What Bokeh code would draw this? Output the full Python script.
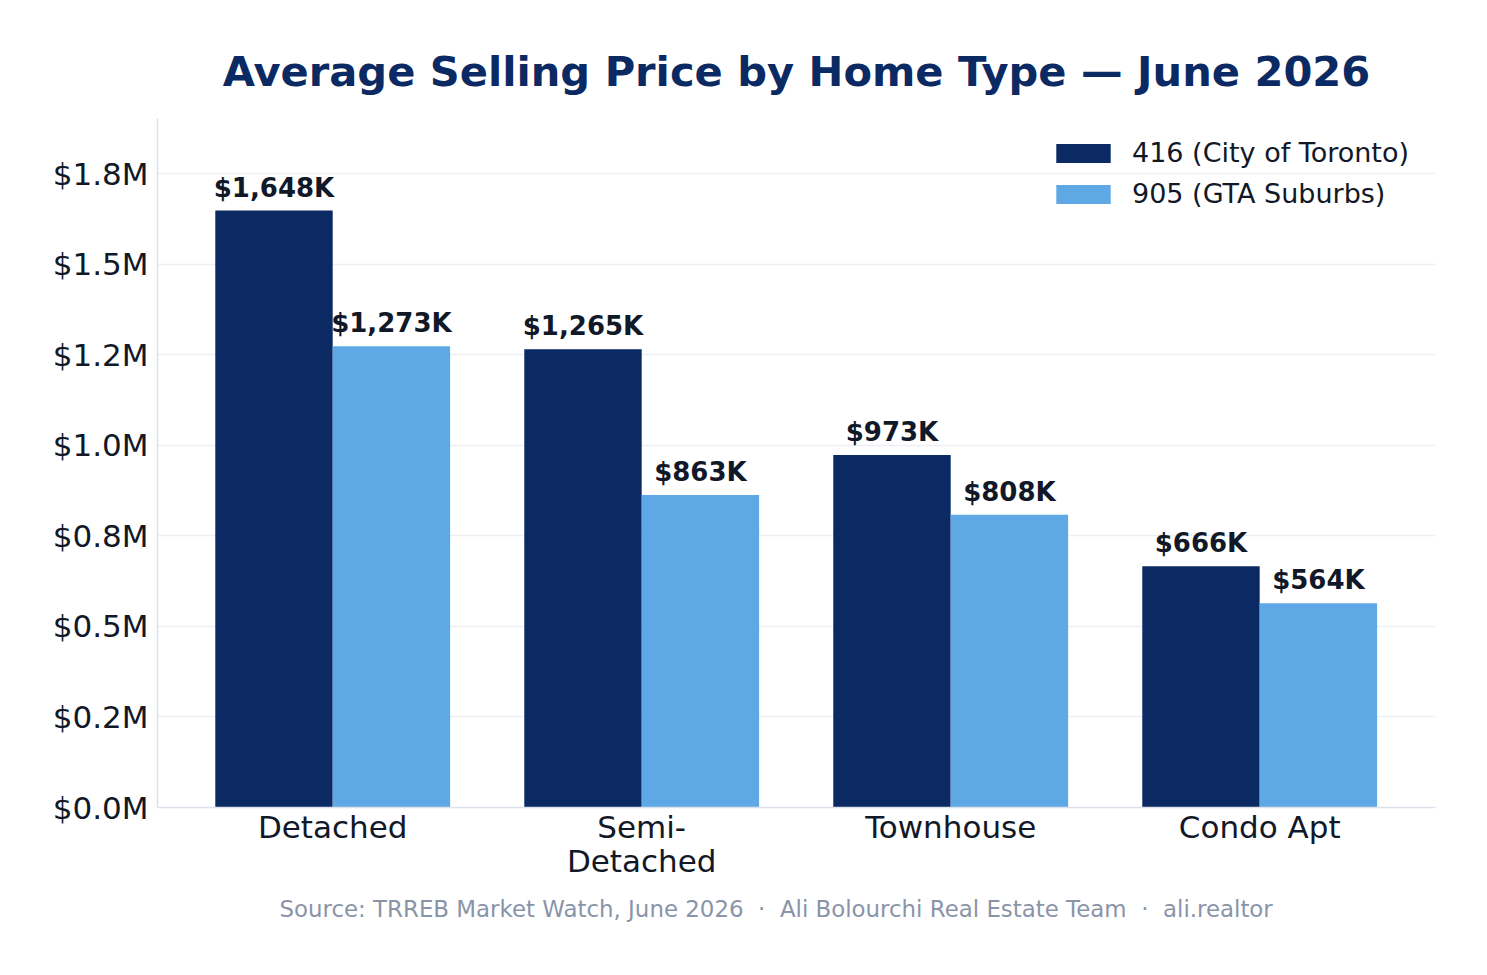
from bokeh.plotting import figure
from bokeh.models import Range1d, FixedTicker, ColumnDataSource, Title
from bokeh.core.properties import value
from bokeh.embed import file_html
from bokeh.resources import INLINE

categories = ["Detached", "Semi-Detached", "Townhouse", "Condo Apt"]
x_tick_labels = ["Detached", "Semi-\nDetached", "Townhouse", "Condo Apt"]
toronto_416 = [1648, 1265, 973, 666]   # $K
suburbs_905 = [1273, 863, 808, 564]    # $K
y_ticks = [0, 250000, 500000, 750000, 1000000, 1250000, 1500000, 1750000]
y_tick_labels = ["$0.0M", "$0.2M", "$0.5M", "$0.8M", "$1.0M", "$1.2M", "$1.5M", "$1.8M"]
series_names = ["416 (City of Toronto)", "905 (GTA Suburbs)"]
title_text = "Average Selling Price by Home Type \u2014 June 2026"
NB = "\u00a0"
source_text = ("Source: TRREB Market Watch, June 2026" + NB * 2 + "\u00b7" + NB * 2 +
               "Ali Bolourchi Real Estate Team" + NB * 2 + "\u00b7" + NB * 2 + "ali.realtor")

DARK = "#0B2A63"
LIGHT = "#5FA8E6"
TEXT = "#111827"
FONT = "DejaVu Sans"
W = 0.38

p = figure(width=1487, height=975, output_backend="svg", toolbar_location=None,
           x_range=Range1d(-0.567, 3.569), y_range=Range1d(0, 1902000),
           min_border_left=157, min_border_right=52, min_border_top=118, min_border_bottom=168)
p.outline_line_color = None
p.background_fill_color = "white"
p.border_fill_color = "white"

p.title.text = title_text
p.title.align = "center"
p.title.text_font = FONT
p.title.text_font_size = "41.6px"
p.title.text_font_style = "bold"
p.title.text_color = DARK
p.title.standoff = 46

idx = list(range(len(categories)))
src = ColumnDataSource(dict(
    x1=[i - W / 2 for i in idx], x2=[i + W / 2 for i in idx],
    t1=[v * 1000 for v in toronto_416], t2=[v * 1000 for v in suburbs_905],
    l1=[f"${v:,}K" for v in toronto_416], l2=[f"${v:,}K" for v in suburbs_905],
))

p.vbar(x="x1", top="t1", width=W, bottom=0, source=src, fill_color=DARK, line_color=None,
       legend_label=series_names[0])
p.vbar(x="x2", top="t2", width=W, bottom=0, source=src, fill_color=LIGHT, line_color=None,
       legend_label=series_names[1])

for xk, yk, lk in (("x1", "t1", "l1"), ("x2", "t2", "l2")):
    p.text(x=xk, y=yk, text=lk, source=src, text_align="center", text_baseline="alphabetic",
           y_offset=-23, text_font=value(FONT), text_font_size="26px", text_font_style="bold",
           text_color=TEXT)

# axes
p.xaxis.ticker = FixedTicker(ticks=idx)
p.xaxis.major_label_overrides = {i: lab for i, lab in zip(idx, x_tick_labels)}
p.yaxis.ticker = FixedTicker(ticks=y_ticks)
p.yaxis.major_label_overrides = {t: lab for t, lab in zip(y_ticks, y_tick_labels)}
for ax in (p.xaxis, p.yaxis):
    ax.major_tick_line_color = None
    ax.minor_tick_line_color = None
    ax.major_tick_out = 0
    ax.major_tick_in = 0
    ax.axis_line_color = "#DDE1EB"
    ax.axis_line_width = 1.5
    ax.major_label_text_font = FONT
    ax.major_label_text_font_size = "31px"
    ax.major_label_text_color = TEXT
p.yaxis.major_label_standoff = 9
p.xaxis.major_label_standoff = 1
p.xaxis.major_label_text_line_height = 0.95

p.xgrid.grid_line_color = None
p.ygrid.grid_line_color = "#ECEFF4"
p.ygrid.grid_line_width = 1.5
p.ygrid.ticker = FixedTicker(ticks=y_ticks[1:])

p.legend.location = "top_right"
p.legend.border_line_color = None
p.legend.background_fill_alpha = 0
p.legend.label_text_font = FONT
p.legend.label_text_font_size = "27px"
p.legend.label_text_color = TEXT
p.legend.glyph_width = 68
p.legend.glyph_height = 24
p.legend.label_standoff = 15
p.legend.label_height = 30
p.legend.label_width = 284
p.legend.spacing = 10
p.legend.margin = 19
p.legend.padding = 29

src_title = Title(text=source_text, align="left", offset=122, text_font=FONT,
                  text_font_size="22.9px", text_font_style="normal", text_color="#8A94A8",
                  standoff=24)
p.add_layout(src_title, "below")

open("out.html", "w").write(file_html(p, INLINE))
